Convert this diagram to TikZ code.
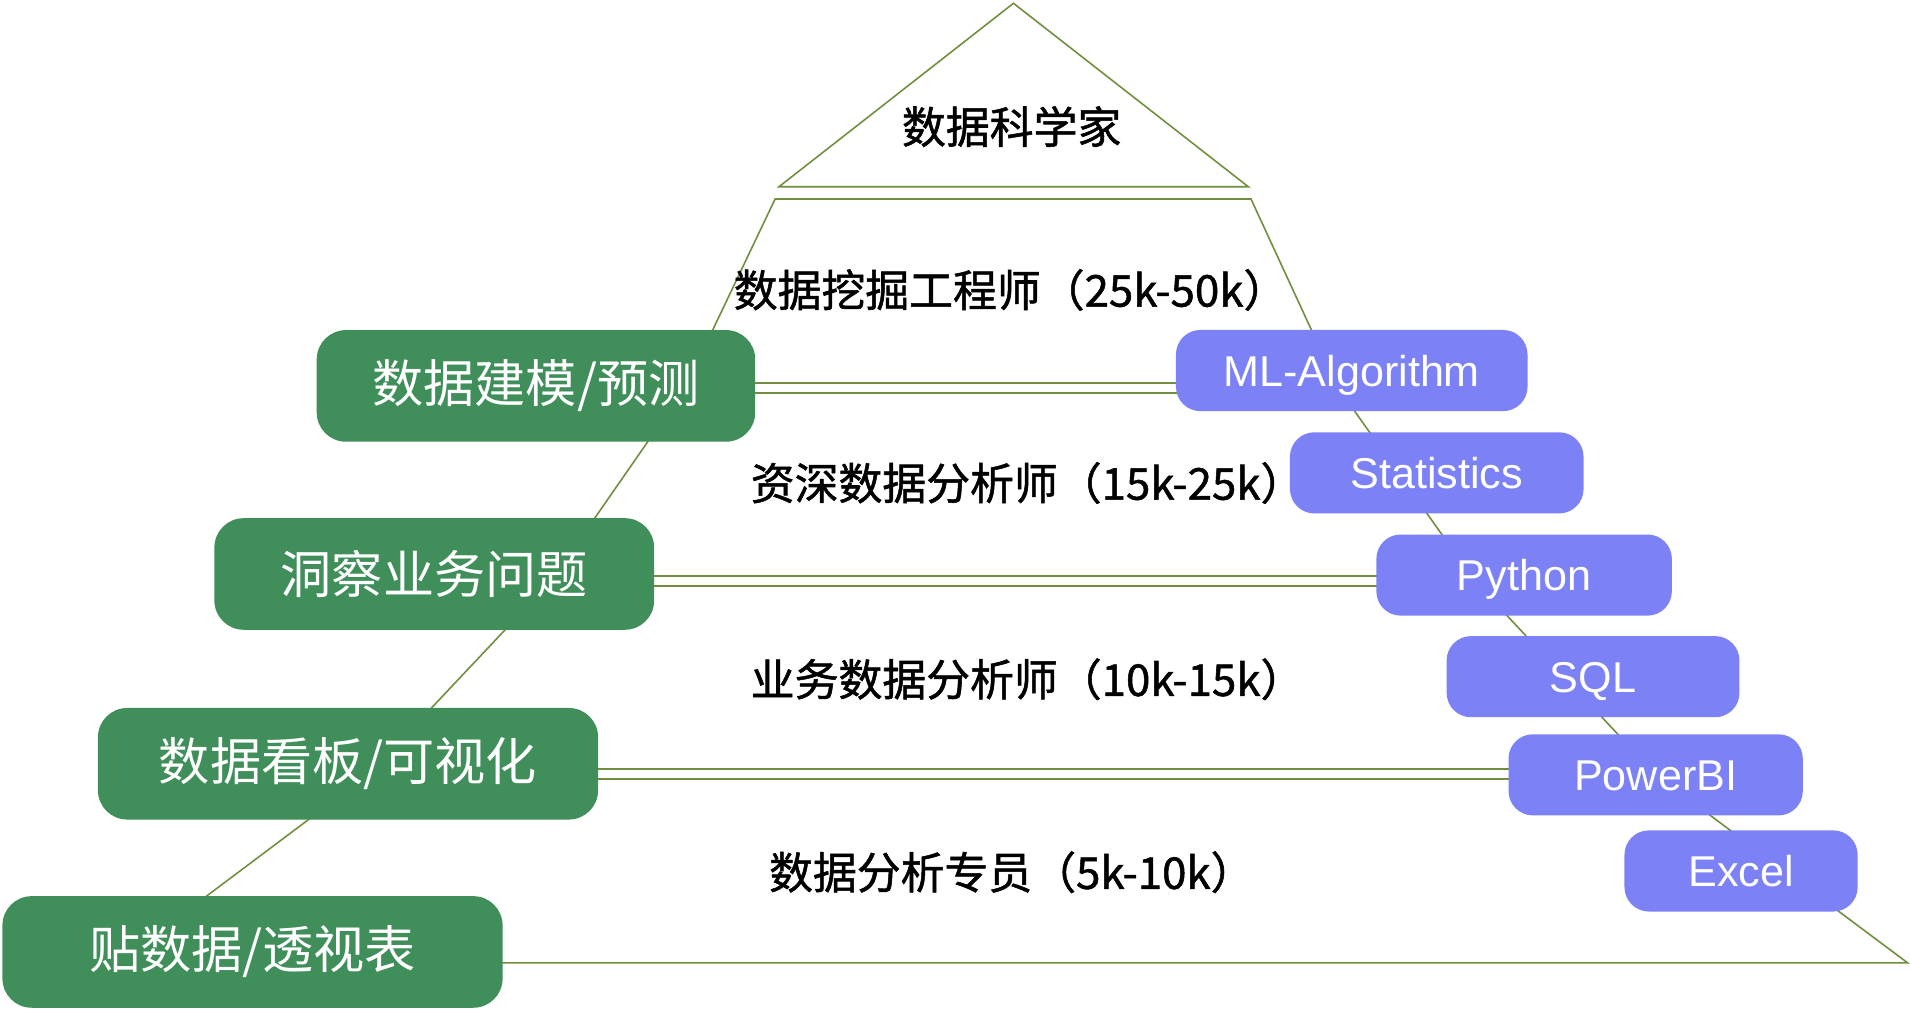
\documentclass[tikz,border=0pt]{standalone}
\usepackage{fontspec}
\setmainfont{Liberation Sans}
\newfontfamily\cjk{Noto Sans CJK SC}
\newfontfamily\cjkmed[FakeBold=1.2]{Noto Sans CJK SC}
\usepackage{tikz}
\usetikzlibrary{positioning}
\definecolor{pyrline}{RGB}{112,142,62}
\definecolor{boxgreen}{RGB}{64,142,90}
\definecolor{boxblue}{RGB}{124,130,245}

\begin{document}
\begin{tikzpicture}[x=0.5pt, y=-0.5pt,
  outline/.style = {draw=pyrline, line width=0.65pt},
  layer/.style = {draw=pyrline, line width=0.65pt, double=white, double distance=3.45pt},
  skill/.style = {fill=boxgreen, rounded corners=12pt, text=white, inner sep=0pt, minimum height=45.8pt, font=\cjk\fontsize{21}{25}\selectfont},
  tool/.style = {fill=boxblue, rounded corners=10pt, text=white, inner sep=0pt, minimum height=33.3pt, text height=12.7pt, text depth=0pt, font=\fontsize{17.7}{21}\selectfont},
  level/.style = {inner sep=0pt, anchor=base west, font=\cjkmed\fontsize{18}{22}\selectfont}]
\useasboundingbox[fill=white] (0,0) rectangle (1568,829);

\coordinate (apex) at (832,2.7);
\coordinate (bl0) at (639.5,153.3);
\coordinate (br0) at (1024.8,153.3);
\coordinate (tl) at (636.3,163.4);
\coordinate (tr) at (1027,163.4);
\coordinate (l1) at (562.5,318.3);
\coordinate (r1) at (1098.5,318.3);
\coordinate (l2) at (452.5,476.9);
\coordinate (r2) at (1210.6,476.9);
\coordinate (l3) at (303,635.5);
\coordinate (r3) at (1358.7,635.5);
\coordinate (bl) at (96.6,790.4);
\coordinate (br) at (1566,790.4);

\draw[outline] (apex) -- (br0) -- (bl0) -- cycle;
\draw[outline] (tl) -- (tr) -- (r1) -- (r2) -- (r3) -- (br) -- (bl) -- (l3) -- (l2) -- (l1) -- cycle;
\draw[layer] (l1) -- (r1);
\draw[layer] (l2) -- (r2);
\draw[layer] (l3) -- (r3);

\node[level, anchor=base] (0) at (830.5,117.7) {数据科学家};
\node[level] (11) at (602,251.7) {数据挖掘工程师（25k-50k）};
\node[level] (12) at (616,410.2) {资深数据分析师（15k-25k）};
\node[level] (13) at (616,571.3) {业务数据分析师（10k-15k）};
\node[level] (14) at (631,729.7) {数据分析专员（5k-10k）};

\node[skill, minimum width=180pt] (1) at (440,316.8) {数据建模/预测};
\node[skill, minimum width=180.5pt] (2) at (356.5,471.2) {洞察业务问题};
\node[skill, minimum width=205.3pt] (3) at (285.7,627) {数据看板/可视化};
\node[skill, minimum width=205.3pt] (4) at (207.3,781.5) {贴数据/透视表};

\node[tool, minimum width=144.3pt] (5) at (1109.7,304.2) {ML-Algorithm};
\node[tool, minimum width=120.5pt] (6) at (1179.5,388.2) {Statistics};
\node[tool, minimum width=121.3pt] (7) at (1251.2,472.1) {Python};
\node[tool, minimum width=120.2pt] (8) at (1307.8,555.5) {SQL};
\node[tool, minimum width=120.8pt] (9) at (1359.2,636.1) {PowerBI};
\node[tool, minimum width=95.7pt] (10) at (1429.3,715) {Excel};
\end{tikzpicture}
\end{document}
